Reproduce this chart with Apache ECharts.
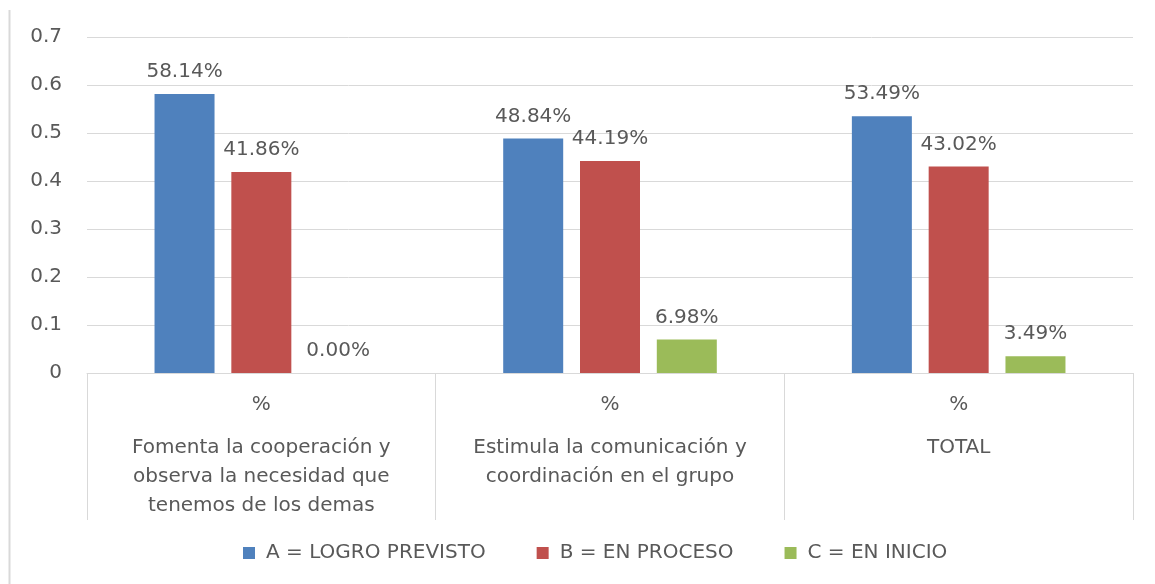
<!DOCTYPE html>
<html>
<head>
<meta charset="utf-8">
<script src="https://cdn.jsdelivr.net/npm/echarts@6/dist/echarts.min.js"></script>
<style>
    html, body { margin: 0; padding: 0; background: #fff; }
    #chart { width: 1155px; height: 584px; }
</style>
</head>
<body>
<div id="chart"></div>
<script>
// Datos del gráfico
const categorias = [
    ['Fomenta la cooperación y', 'observa la necesidad que', 'tenemos de los demas'],
    ['Estimula la comunicación y', 'coordinación en el grupo'],
    ['TOTAL']
];
const nombresSeries = ['A = LOGRO PREVISTO', 'B = EN PROCESO', 'C = EN INICIO'];
const logroPrevisto = [0.5814, 0.4884, 0.5349];
const enProceso = [0.4186, 0.4419, 0.4302];
const enInicio = [0.0, 0.0698, 0.0349];
const colores = ['#4F81BD', '#C0504D', '#9BBB59'];

const fuente = 'DejaVu Sans';
const gris = '#595959';
const linea = '#d9d9d9';

const chart = echarts.init(document.getElementById('chart'));

const serie = (nombre, datos, color) => ({
    name: nombre,
    type: 'bar',
    data: datos,
    barWidth: 60,
    barGap: '28%',
    itemStyle: { color: color },
    label: {
        show: true,
        position: 'top',
        distance: 12,
        color: gris,
        fontFamily: fuente,
        fontSize: 20,
        formatter: p => (p.value * 100).toFixed(2) + '%'
    }
});

chart.setOption({
    animation: false,
    textStyle: { fontFamily: fuente },
    grid: { left: 87, right: 22, top: 37, bottom: 211 },
    legend: {
        bottom: 16,
        left: 238,
        itemWidth: 12,
        itemHeight: 12,
        itemGap: 51,
        icon: 'rect',
        textStyle: { color: gris, fontFamily: fuente, fontSize: 20, padding: [0, 0, 0, 6] },
        data: nombresSeries
    },
    xAxis: {
        type: 'category',
        data: categorias.map(c => c.join('\n')),
        axisLine: { lineStyle: { color: linea, width: 1 } },
        axisTick: {
            show: true,
            interval: 0,
            alignWithLabel: false,
            length: 147,
            lineStyle: { color: linea }
        },
        axisLabel: {
            interval: 0,
            margin: 4,
            formatter: v => '{p|%}\n' + v.split('\n').map(l => '{c|' + l + '}').join('\n'),
            rich: {
                p: { color: gris, fontFamily: fuente, fontSize: 20, lineHeight: 56 },
                c: { color: gris, fontFamily: fuente, fontSize: 20, lineHeight: 29 }
            }
        }
    },
    yAxis: {
        type: 'value',
        min: 0,
        max: 0.7,
        interval: 0.1,
        axisLine: { show: false },
        axisTick: { show: false },
        splitLine: { lineStyle: { color: linea } },
        axisLabel: {
            color: gris,
            fontFamily: fuente,
            fontSize: 20,
            margin: 25
        }
    },
    graphic: [{
        type: 'line',
        shape: { x1: 9.5, y1: 10, x2: 9.5, y2: 584 },
        style: { stroke: linea, lineWidth: 2 }
    }],
    series: [
        serie(nombresSeries[0], logroPrevisto, colores[0]),
        serie(nombresSeries[1], enProceso, colores[1]),
        serie(nombresSeries[2], enInicio, colores[2])
    ]
});
</script>
</body>
</html>
